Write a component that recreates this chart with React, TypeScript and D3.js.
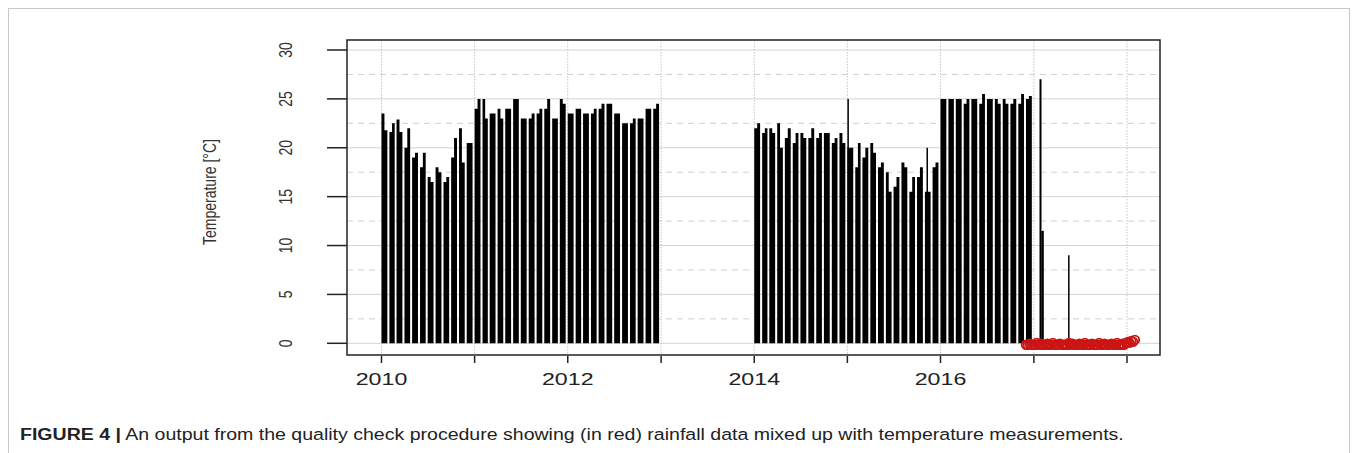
import React from 'react';
import * as d3 from 'd3';

// year ticks on the x axis, only even years get a label
const yearTicks = ['2010-01-01', '2011-01-01', '2012-01-01', '2013-01-01', '2014-01-01', '2015-01-01', '2016-01-01', '2017-01-01', '2018-01-01'];
const yearLabels = ['2010', '', '2012', '', '2014', '', '2016', '', ''];
const yTicks = [0, 5, 10, 15, 20, 25, 30];
const yHalfGrid = [2.5, 7.5, 12.5, 17.5, 22.5, 27.5];

// monthly temperature, first and second half of each month
const tempFirstA = [
  23.5, 21.6, 22.9, 20, 19, 18, 17, 18, 16.5, 19, 22, 20.5,
  24, 25, 23.5, 24, 24, 25, 23, 23, 23.5, 24, 23, 25,
  23.5, 24, 23.5, 23.5, 24, 24.5, 23.5, 22.5, 22.5, 23, 24, 24,
];
const tempSecondA = [
  21.8, 22.5, 21.6, 22, 19.5, 19.5, 16.5, 17.5, 17, 21, 18.5, 20.5,
  25, 23, 23.5, 23, 24, 25, 23, 23.5, 24, 25, 23, 24.5,
  23.5, 24, 23.5, 24, 24.5, 24.5, 23.5, 22.5, 23, 23, 24, 24.5,
];
const tempFirstB = [
  22, 21.5, 22, 22.5, 21, 20.5, 21.5, 21, 21, 21.5, 20.5, 21.5,
  20, 18, 19, 20.5, 18, 17.5, 16, 18.5, 15.5, 17, 15.5, 18,
  25, 25, 25, 24.5, 25, 24.5, 25, 25, 25, 24.5, 24.5, 25,
];
const tempSecondB = [
  22.5, 22, 21.5, 20, 22, 21.5, 21, 22, 21.5, 21.5, 21, 20.5,
  20, 20.5, 20, 19.5, 18.5, 15.5, 17, 18, 17, 18, 15.5, 18.5,
  25, 25, 25, 25, 25, 25.5, 25, 24.5, 24.5, 25, 25.5, 25.3,
];

// single-day spikes
const spikeDates = ['2015-01-04', '2015-11-10', '2017-01-27', '2017-02-04', '2017-05-18'];
const spikeValues = [25, 20, 27, 11.5, 9];
const spikeWidths = [1.5, 1.5, 2, 2.5, 1.5];

// rainfall values (red) mixed into the series, weekly from 2016-12-01
const rainValues = [
  0, 0, 0.1, 0, 0, 0, 0.2, 0, 0.1, 0, 0, 0, 0.1, 0, 0, 0.2,
  0, 0, 0, 0.1, 0, 0, 0, 0, 0.2, 0, 0.1, 0, 0, 0, 0.1, 0,
  0, 0.2, 0, 0, 0, 0.1, 0, 0, 0, 0.2, 0, 0, 0.1, 0, 0, 0,
  0.1, 0, 0, 0.2, 0, 0, 0.1, 0, 0.2, 0.3, 0.2, 0.4, 0.3, 0.5,
];

const parse = d3.timeParse('%Y-%m-%d');
const monthsA = d3.timeMonth.range(new Date(2010, 0, 1), new Date(2013, 0, 1));
const monthsB = d3.timeMonth.range(new Date(2014, 0, 1), new Date(2017, 0, 1));
const rainDates = d3.timeDay.range(new Date(2016, 11, 1), new Date(2018, 1, 8), 7);

const W = 1358;
const H = 453;
const box = { left: 347, right: 1160, top: 40, bottom: 355 };
const font = '"Liberation Sans", Arial, sans-serif';

export default function App() {
  const x = d3
    .scaleTime()
    .domain([new Date(2010, 0, 1), new Date(2018, 0, 1)])
    .range([381.5, 1127]);
  const y = d3.scaleLinear().domain([0, 30]).range([343.3, 50]);

  const barPath = (m: Date, a: number, b: number) => {
    const x0 = x(m);
    const x1 = x(d3.timeMonth.offset(m, 1));
    const w = (x1 - x0) * 0.74;
    const p = d3.path();
    p.moveTo(x0, y(0));
    p.lineTo(x0, y(a));
    p.lineTo(x0 + w / 2, y(a));
    p.lineTo(x0 + w / 2, y(b));
    p.lineTo(x0 + w, y(b));
    p.lineTo(x0 + w, y(0));
    p.closePath();
    return p.toString();
  };

  return (
    <svg width={W} height={H} style={{ position: 'absolute', left: 0, top: 0, background: '#fff' }}>
      <rect x={8.5} y={8.5} width={1341} height={470} fill="none" stroke="#c8c8c8" strokeWidth={1} />

      {/* grid */}
      {yTicks.map((t) => (
        <line key={'g' + t} x1={box.left} x2={box.right} y1={y(t)} y2={y(t)} stroke="#d4d4d4" strokeWidth={1} />
      ))}
      {yHalfGrid.map((t) => (
        <line key={'h' + t} x1={box.left} x2={box.right} y1={y(t)} y2={y(t)} stroke="#d0d0d0" strokeWidth={1} strokeDasharray="6,5" />
      ))}
      {yearTicks.map((d) => (
        <line key={'v' + d} x1={x(parse(d)!)} x2={x(parse(d)!)} y1={box.top} y2={box.bottom} stroke="#c4c4c4" strokeWidth={1} strokeDasharray="1.5,1.5" />
      ))}

      {/* temperature bars */}
      {monthsA.map((m, i) => (
        <path key={'a' + i} d={barPath(m, tempFirstA[i], tempSecondA[i])} fill="#000" />
      ))}
      {monthsB.map((m, i) => (
        <path key={'b' + i} d={barPath(m, tempFirstB[i], tempSecondB[i])} fill="#000" />
      ))}
      {spikeDates.map((d, i) => (
        <line key={'s' + d} x1={x(parse(d)!)} x2={x(parse(d)!)} y1={y(0)} y2={y(spikeValues[i])} stroke="#000" strokeWidth={spikeWidths[i]} />
      ))}

      {/* rainfall points */}
      {rainDates.map((d, i) => (
        <circle key={'r' + i} cx={x(d)} cy={y(rainValues[i] ?? 0) + 1.5} r={4.3} fill="none" stroke="#cc1414" strokeWidth={1.8} />
      ))}

      {/* box */}
      <rect x={box.left} y={box.top} width={box.right - box.left} height={box.bottom - box.top} fill="none" stroke="#222" strokeWidth={1.5} />

      {/* y axis */}
      {yTicks.map((t) => (
        <g key={'yt' + t}>
          <line x1={327} x2={box.left} y1={y(t)} y2={y(t)} stroke="#222" strokeWidth={1.5} />
          <text
            transform={`translate(292,${y(t)}) scale(1.3,1) rotate(-90)`}
            textAnchor="middle"
            fontFamily={font}
            fontSize={14}
            fill="#333"
          >
            {t}
          </text>
        </g>
      ))}
      <text
        transform={`translate(216,192) scale(1.3,1) rotate(-90)`}
        textAnchor="middle"
        fontFamily={font}
        fontSize={14}
        fill="#333"
      >
        Temperature [°C]
      </text>

      {/* x axis */}
      {yearTicks.map((d, i) => (
        <g key={'xt' + d}>
          <line x1={x(parse(d)!)} x2={x(parse(d)!)} y1={356} y2={363} stroke="#222" strokeWidth={1.5} />
          {yearLabels[i] && (
            <text
              transform={`translate(${x(parse(d)!)},385) scale(1.45,1)`}
              textAnchor="middle"
              fontFamily={font}
              fontSize={16}
              fill="#222"
            >
              {yearLabels[i]}
            </text>
          )}
        </g>
      ))}

      {/* caption */}
      <text transform="translate(20,440) scale(1.15,1)" fontFamily={font} fontSize={17} fill="#222">
        <tspan fontWeight="bold">FIGURE 4 |</tspan>
        <tspan> An output from the quality check procedure showing (in red) rainfall data mixed up with temperature measurements.</tspan>
      </text>
    </svg>
  );
}
